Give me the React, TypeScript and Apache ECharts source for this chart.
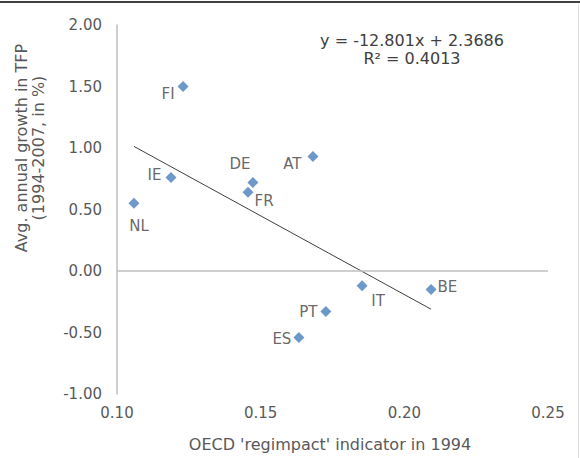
import React, { useEffect, useRef } from "react";
import * as echarts from "echarts";

const countries = ["FI", "IE", "NL", "DE", "FR", "AT", "IT", "BE", "PT", "ES"];
const regimpact = [0.123, 0.1188, 0.1059, 0.1473, 0.1456, 0.1682, 0.1853, 0.2093, 0.1727, 0.1633];
const tfpGrowth = [1.5, 0.76, 0.55, 0.72, 0.64, 0.93, -0.12, -0.15, -0.33, -0.54];
const trendSlope = -12.801;
const trendIntercept = 2.3686;
const rSquared = 0.4013;
const xTicks = [0.1, 0.15, 0.2, 0.25];
const yTicks = [-1, -0.5, 0, 0.5, 1, 1.5, 2];

const labelLayout: Record<string, any> = {
  FI: { position: "left", distance: 3, offset: [0, 7] },
  IE: { position: "left", distance: 4, offset: [0, -3] },
  NL: { position: "bottom", distance: 10, offset: [5, 0] },
  DE: { position: "top", distance: 5, offset: [-13, 0] },
  FR: { position: "right", distance: 1, offset: [0, 9] },
  AT: { position: "left", distance: 6, offset: [0, 7] },
  IT: { position: "bottom", distance: 2, offset: [16, 0] },
  BE: { position: "right", distance: 1, offset: [0, -2] },
  PT: { position: "left", distance: 3, offset: [0, 0] },
  ES: { position: "left", distance: 2, offset: [0, 2] },
};

const FONT = "'DejaVu Sans', Verdana, sans-serif";

export default function App() {
  const ref = useRef<HTMLDivElement>(null);
  useEffect(() => {
    if (!ref.current) return;
    const chart = echarts.init(ref.current, undefined, { renderer: "svg" });
    const xMin = Math.min(...regimpact);
    const xMax = Math.max(...regimpact);
    const trend = [
      [xMin, trendSlope * xMin + trendIntercept],
      [xMax, trendSlope * xMax + trendIntercept],
    ];
    const sign = trendIntercept >= 0 ? "+" : "-";
    chart.setOption({
      animation: false,
      backgroundColor: "#ffffff",
      textStyle: { fontFamily: FONT },
      grid: { left: 117, top: 25, width: 431, height: 369, containLabel: false },
      xAxis: {
        type: "value",
        min: xTicks[0],
        max: xTicks[xTicks.length - 1],
        interval: 0.05,
        axisLine: { show: false },
        axisTick: { show: false },
        splitLine: { show: false },
        axisLabel: {
          color: "#595959",
          fontSize: 15,
          fontFamily: FONT,
          margin: 11,
          formatter: (v: number) => v.toFixed(2),
        },
      },
      yAxis: {
        type: "value",
        min: yTicks[0],
        max: yTicks[yTicks.length - 1],
        interval: 0.5,
        axisLine: { show: true, onZero: false, lineStyle: { color: "#bfbfbf", width: 1.5 } },
        axisTick: { show: false },
        splitLine: { show: false },
        axisLabel: {
          color: "#595959",
          fontSize: 15,
          fontFamily: FONT,
          margin: 15,
          formatter: (v: number) => v.toFixed(2),
        },
      },
      graphic: [
        { type: "line", shape: { x1: 0, y1: 2, x2: 580, y2: 2 }, style: { stroke: "#000000", lineWidth: 1.5 } },
        { type: "line", shape: { x1: 578.5, y1: 5, x2: 578.5, y2: 458 }, style: { stroke: "#dddddd", lineWidth: 1 } },
        {
          type: "text",
          x: 412,
          y: 40,
          style: {
            text: `y = ${trendSlope}x ${sign} ${Math.abs(trendIntercept)}`,
            fill: "#404040",
            font: `16px ${FONT}`,
            align: "center",
            verticalAlign: "middle",
          },
        },
        {
          type: "text",
          x: 412,
          y: 58,
          style: {
            text: `R² = ${rSquared}`,
            fill: "#404040",
            font: `16px ${FONT}`,
            align: "center",
            verticalAlign: "middle",
          },
        },
        {
          type: "text",
          x: 30,
          y: 148,
          rotation: Math.PI / 2,
          style: {
            text: "Avg. annual growth in TFP\n(1994-2007, in %)",
            fill: "#595959",
            font: `16px ${FONT}`,
            align: "center",
            verticalAlign: "middle",
            lineHeight: 17,
          },
        },
        {
          type: "text",
          x: 330,
          y: 444,
          style: {
            text: "OECD 'regimpact' indicator in 1994",
            fill: "#595959",
            font: `16px ${FONT}`,
            align: "center",
            verticalAlign: "middle",
          },
        },
      ],
      series: [
        {
          type: "line",
          data: trend,
          showSymbol: false,
          symbol: "none",
          lineStyle: { color: "#404040", width: 1 },
          silent: true,
          z: 2,
          markLine: {
            silent: true,
            symbol: ["none", "none"],
            label: { show: false },
            lineStyle: { color: "#bfbfbf", width: 1.5, type: "solid" },
            data: [{ yAxis: 0 }],
          },
        },
        {
          type: "scatter",
          symbol: "diamond",
          symbolSize: 11,
          itemStyle: { color: "#4a7ebd" },
          z: 3,
          data: countries.map((c, i) => ({
            name: c,
            value: [regimpact[i], tfpGrowth[i]],
            label: {
              show: true,
              formatter: c,
              color: "#404040",
              fontSize: 15,
              fontFamily: FONT,
              ...labelLayout[c],
            },
          })),
        },
      ],
    });
    return () => chart.dispose();
  }, []);
  return (
    <div
      ref={ref}
      style={{ position: "absolute", left: 0, top: 0, width: 580, height: 458, background: "#fff" }}
    />
  );
}
